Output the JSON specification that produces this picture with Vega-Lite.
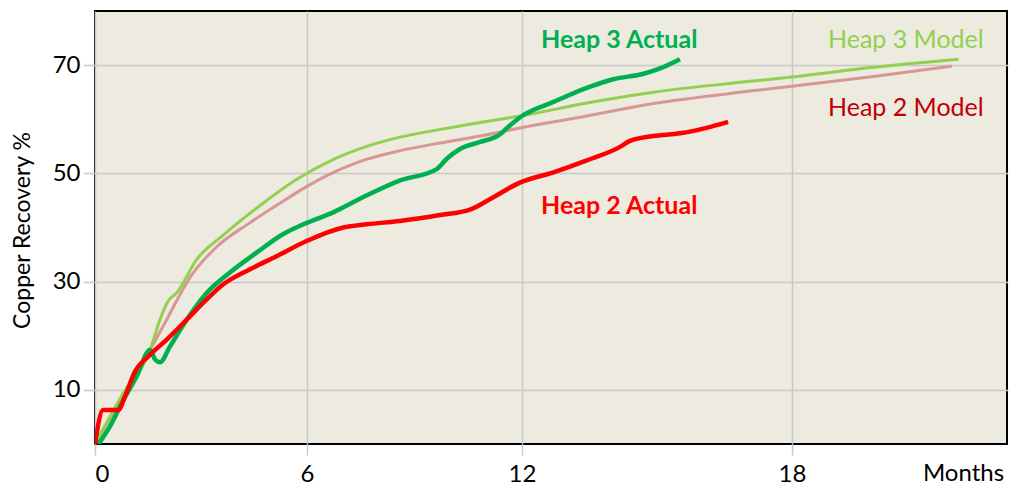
{
  "$schema": "https://vega.github.io/schema/vega-lite/v6.json",
  "width": 912,
  "height": 433,
  "autosize": "none",
  "padding": {"left": 95, "top": 11, "right": 5, "bottom": 43},
  "background": "white",
  "config": {
    "view": {"fill": "#EDEAE0", "stroke": "#000000", "strokeWidth": 2},
    "font": "Lato"
  },
  "datasets": {
    "curves": [
      {"series": "Heap 2 Model", "m": 0, "v": 0},
      {"series": "Heap 2 Model", "m": 0.8, "v": 8.8},
      {"series": "Heap 2 Model", "m": 1.56, "v": 17.4},
      {"series": "Heap 2 Model", "m": 2.03, "v": 23.0},
      {"series": "Heap 2 Model", "m": 2.69, "v": 30.8},
      {"series": "Heap 2 Model", "m": 3.44, "v": 36.4},
      {"series": "Heap 2 Model", "m": 4.39, "v": 40.9},
      {"series": "Heap 2 Model", "m": 5.33, "v": 44.9},
      {"series": "Heap 2 Model", "m": 6.0, "v": 47.6},
      {"series": "Heap 2 Model", "m": 6.55, "v": 49.6},
      {"series": "Heap 2 Model", "m": 7.39, "v": 52.0},
      {"series": "Heap 2 Model", "m": 8.6, "v": 54.2},
      {"series": "Heap 2 Model", "m": 9.71, "v": 55.6},
      {"series": "Heap 2 Model", "m": 10.92, "v": 57.0},
      {"series": "Heap 2 Model", "m": 11.94, "v": 58.4},
      {"series": "Heap 2 Model", "m": 13.44, "v": 60.6},
      {"series": "Heap 2 Model", "m": 14.92, "v": 62.9},
      {"series": "Heap 2 Model", "m": 17.07, "v": 65.2},
      {"series": "Heap 2 Model", "m": 18.0, "v": 66.1},
      {"series": "Heap 2 Model", "m": 19.81, "v": 67.9},
      {"series": "Heap 2 Model", "m": 21.55, "v": 69.8},

      {"series": "Heap 3 Model", "m": 0, "v": 0},
      {"series": "Heap 3 Model", "m": 0.8, "v": 9.4},
      {"series": "Heap 3 Model", "m": 1.56, "v": 17.4},
      {"series": "Heap 3 Model", "m": 1.84, "v": 23.0},
      {"series": "Heap 3 Model", "m": 2.07, "v": 26.4},
      {"series": "Heap 3 Model", "m": 2.31, "v": 27.9},
      {"series": "Heap 3 Model", "m": 2.88, "v": 34.1},
      {"series": "Heap 3 Model", "m": 3.63, "v": 38.6},
      {"series": "Heap 3 Model", "m": 4.58, "v": 43.6},
      {"series": "Heap 3 Model", "m": 5.71, "v": 48.9},
      {"series": "Heap 3 Model", "m": 6.74, "v": 52.6},
      {"series": "Heap 3 Model", "m": 7.67, "v": 55.0},
      {"series": "Heap 3 Model", "m": 8.6, "v": 56.7},
      {"series": "Heap 3 Model", "m": 9.53, "v": 57.9},
      {"series": "Heap 3 Model", "m": 10.46, "v": 59.0},
      {"series": "Heap 3 Model", "m": 11.39, "v": 60.0},
      {"series": "Heap 3 Model", "m": 12.03, "v": 60.7},
      {"series": "Heap 3 Model", "m": 13.44, "v": 63.0},
      {"series": "Heap 3 Model", "m": 14.92, "v": 65.0},
      {"series": "Heap 3 Model", "m": 17.07, "v": 67.0},
      {"series": "Heap 3 Model", "m": 18.0, "v": 67.8},
      {"series": "Heap 3 Model", "m": 19.81, "v": 69.6},
      {"series": "Heap 3 Model", "m": 21.7, "v": 71.1},

      {"series": "Heap 3 Actual", "m": 0.1, "v": 0},
      {"series": "Heap 3 Actual", "m": 0.42, "v": 3.2},
      {"series": "Heap 3 Actual", "m": 0.8, "v": 8.1},
      {"series": "Heap 3 Actual", "m": 1.18, "v": 12.5},
      {"series": "Heap 3 Actual", "m": 1.56, "v": 17.4},
      {"series": "Heap 3 Actual", "m": 1.7, "v": 15.6},
      {"series": "Heap 3 Actual", "m": 1.84, "v": 15.1},
      {"series": "Heap 3 Actual", "m": 2.12, "v": 18.0},
      {"series": "Heap 3 Actual", "m": 2.6, "v": 23.0},
      {"series": "Heap 3 Actual", "m": 3.16, "v": 27.9},
      {"series": "Heap 3 Actual", "m": 3.82, "v": 31.7},
      {"series": "Heap 3 Actual", "m": 4.58, "v": 35.4},
      {"series": "Heap 3 Actual", "m": 5.33, "v": 38.8},
      {"series": "Heap 3 Actual", "m": 5.9, "v": 40.6},
      {"series": "Heap 3 Actual", "m": 6.73, "v": 42.8},
      {"series": "Heap 3 Actual", "m": 7.66, "v": 45.9},
      {"series": "Heap 3 Actual", "m": 8.6, "v": 48.7},
      {"series": "Heap 3 Actual", "m": 9.62, "v": 50.8},
      {"series": "Heap 3 Actual", "m": 9.9, "v": 52.7},
      {"series": "Heap 3 Actual", "m": 10.27, "v": 54.5},
      {"series": "Heap 3 Actual", "m": 10.83, "v": 55.8},
      {"series": "Heap 3 Actual", "m": 11.34, "v": 57.0},
      {"series": "Heap 3 Actual", "m": 11.67, "v": 58.9},
      {"series": "Heap 3 Actual", "m": 12.0, "v": 60.6},
      {"series": "Heap 3 Actual", "m": 12.7, "v": 63.2},
      {"series": "Heap 3 Actual", "m": 13.44, "v": 65.8},
      {"series": "Heap 3 Actual", "m": 14.03, "v": 67.4},
      {"series": "Heap 3 Actual", "m": 14.7, "v": 68.4},
      {"series": "Heap 3 Actual", "m": 15.07, "v": 69.4},
      {"series": "Heap 3 Actual", "m": 15.51, "v": 71.1},

      {"series": "Heap 2 Actual", "m": 0, "v": 0},
      {"series": "Heap 2 Actual", "m": 0.23, "v": 6.3},
      {"series": "Heap 2 Actual", "m": 0.66, "v": 6.3},
      {"series": "Heap 2 Actual", "m": 0.85, "v": 8.8},
      {"series": "Heap 2 Actual", "m": 1.13, "v": 13.4},
      {"series": "Heap 2 Actual", "m": 1.51, "v": 16.2},
      {"series": "Heap 2 Actual", "m": 2.03, "v": 19.3},
      {"series": "Heap 2 Actual", "m": 2.6, "v": 23.0},
      {"series": "Heap 2 Actual", "m": 3.16, "v": 26.7},
      {"series": "Heap 2 Actual", "m": 3.63, "v": 29.5},
      {"series": "Heap 2 Actual", "m": 4.39, "v": 32.3},
      {"series": "Heap 2 Actual", "m": 5.14, "v": 34.7},
      {"series": "Heap 2 Actual", "m": 5.99, "v": 37.5},
      {"series": "Heap 2 Actual", "m": 7.01, "v": 40.0},
      {"series": "Heap 2 Actual", "m": 7.67, "v": 40.6},
      {"series": "Heap 2 Actual", "m": 8.59, "v": 41.2},
      {"series": "Heap 2 Actual", "m": 9.71, "v": 42.3},
      {"series": "Heap 2 Actual", "m": 10.55, "v": 43.3},
      {"series": "Heap 2 Actual", "m": 11.2, "v": 45.6},
      {"series": "Heap 2 Actual", "m": 11.94, "v": 48.3},
      {"series": "Heap 2 Actual", "m": 12.7, "v": 50.2},
      {"series": "Heap 2 Actual", "m": 13.44, "v": 52.4},
      {"series": "Heap 2 Actual", "m": 14.18, "v": 54.9},
      {"series": "Heap 2 Actual", "m": 14.4, "v": 56.0},
      {"series": "Heap 2 Actual", "m": 14.92, "v": 56.9},
      {"series": "Heap 2 Actual", "m": 15.51, "v": 57.4},
      {"series": "Heap 2 Actual", "m": 16.1, "v": 58.4},
      {"series": "Heap 2 Actual", "m": 16.58, "v": 59.5}
    ],
    "labels": [
      {"label": "Heap 3 Actual", "m": 14.16, "v": 74.6, "bold": true},
      {"label": "Heap 2 Actual", "m": 14.16, "v": 44.0, "bold": true},
      {"label": "Heap 3 Model", "m": 20.53, "v": 74.6, "bold": false},
      {"label": "Heap 2 Model", "m": 20.53, "v": 62.1, "bold": false}
    ]
  },
  "encoding": {
    "x": {
      "field": "m",
      "type": "quantitative",
      "scale": {"domain": [0, 6, 12, 18, 22.8], "range": [0, 212, 427, 697, 913], "nice": false, "zero": false},
      "axis": {
        "values": [0, 6, 12, 18],
        "format": "d",
        "grid": true,
        "gridColor": "#C8C8C8",
        "gridWidth": 1.5,
        "domain": false,
        "ticks": true,
        "tickColor": "#C8C8C8",
        "tickWidth": 1.5,
        "tickSize": 11,
        "labelPadding": 7,
        "labelFont": "Lato",
        "labelFontSize": 24,
        "labelColor": "#000000",
        "title": "Months",
        "titleFont": "Lato",
        "titleFontSize": 24,
        "titleFontWeight": "normal",
        "titleColor": "#000000",
        "titleX": 868,
        "titleY": 29,
        "titleAlign": "center",
        "titleBaseline": "middle",
        "titleAngle": 0
      }
    },
    "y": {
      "field": "v",
      "type": "quantitative",
      "scale": {"domain": [0, 80], "nice": false},
      "axis": {
        "values": [10, 30, 50, 70],
        "grid": true,
        "gridColor": "#C8C8C8",
        "gridWidth": 1.5,
        "domain": false,
        "ticks": true,
        "tickColor": "#C8C8C8",
        "tickWidth": 1.5,
        "tickSize": 12,
        "labelPadding": 3,
        "labelFont": "Lato",
        "labelFontSize": 24,
        "labelColor": "#000000",
        "title": "Copper Recovery %",
        "titleFont": "Lato",
        "titleFontSize": 23,
        "titleFontWeight": "normal",
        "titleColor": "#000000",
        "titleX": -73,
        "titleY": 219,
        "titleAlign": "center",
        "titleBaseline": "middle",
        "titleAngle": 270
      }
    }
  },
  "layer": [
    {
      "data": {"name": "curves"},
      "transform": [{"filter": "datum.series === 'Heap 2 Model'"}],
      "mark": {"type": "line", "interpolate": "monotone", "color": "#D99694", "strokeWidth": 3, "clip": true}
    },
    {
      "data": {"name": "curves"},
      "transform": [{"filter": "datum.series === 'Heap 3 Model'"}],
      "mark": {"type": "line", "interpolate": "monotone", "color": "#92D050", "strokeWidth": 3, "clip": true}
    },
    {
      "data": {"name": "curves"},
      "transform": [{"filter": "datum.series === 'Heap 3 Actual'"}],
      "mark": {"type": "line", "interpolate": "monotone", "color": "#00B050", "strokeWidth": 4.5, "clip": true}
    },
    {
      "data": {"name": "curves"},
      "transform": [{"filter": "datum.series === 'Heap 2 Actual'"}],
      "mark": {"type": "line", "interpolate": "monotone", "color": "#FF0000", "strokeWidth": 4.5, "clip": true}
    },
    {
      "data": {"name": "labels"},
      "transform": [{"filter": "datum.bold"}],
      "mark": {"type": "text", "font": "Lato", "fontSize": 25, "fontWeight": "bold", "align": "center", "baseline": "middle"},
      "encoding": {
        "text": {"field": "label"},
        "color": {"field": "label", "type": "nominal", "scale": {"domain": ["Heap 3 Actual", "Heap 2 Actual", "Heap 3 Model", "Heap 2 Model"], "range": ["#00B050", "#FF0000", "#92D050", "#C00000"]}, "legend": null}
      }
    },
    {
      "data": {"name": "labels"},
      "transform": [{"filter": "!datum.bold"}],
      "mark": {"type": "text", "font": "Lato", "fontSize": 25, "fontWeight": "normal", "align": "center", "baseline": "middle"},
      "encoding": {
        "text": {"field": "label"},
        "color": {"field": "label", "type": "nominal", "scale": {"domain": ["Heap 3 Actual", "Heap 2 Actual", "Heap 3 Model", "Heap 2 Model"], "range": ["#00B050", "#FF0000", "#92D050", "#C00000"]}, "legend": null}
      }
    }
  ]
}
